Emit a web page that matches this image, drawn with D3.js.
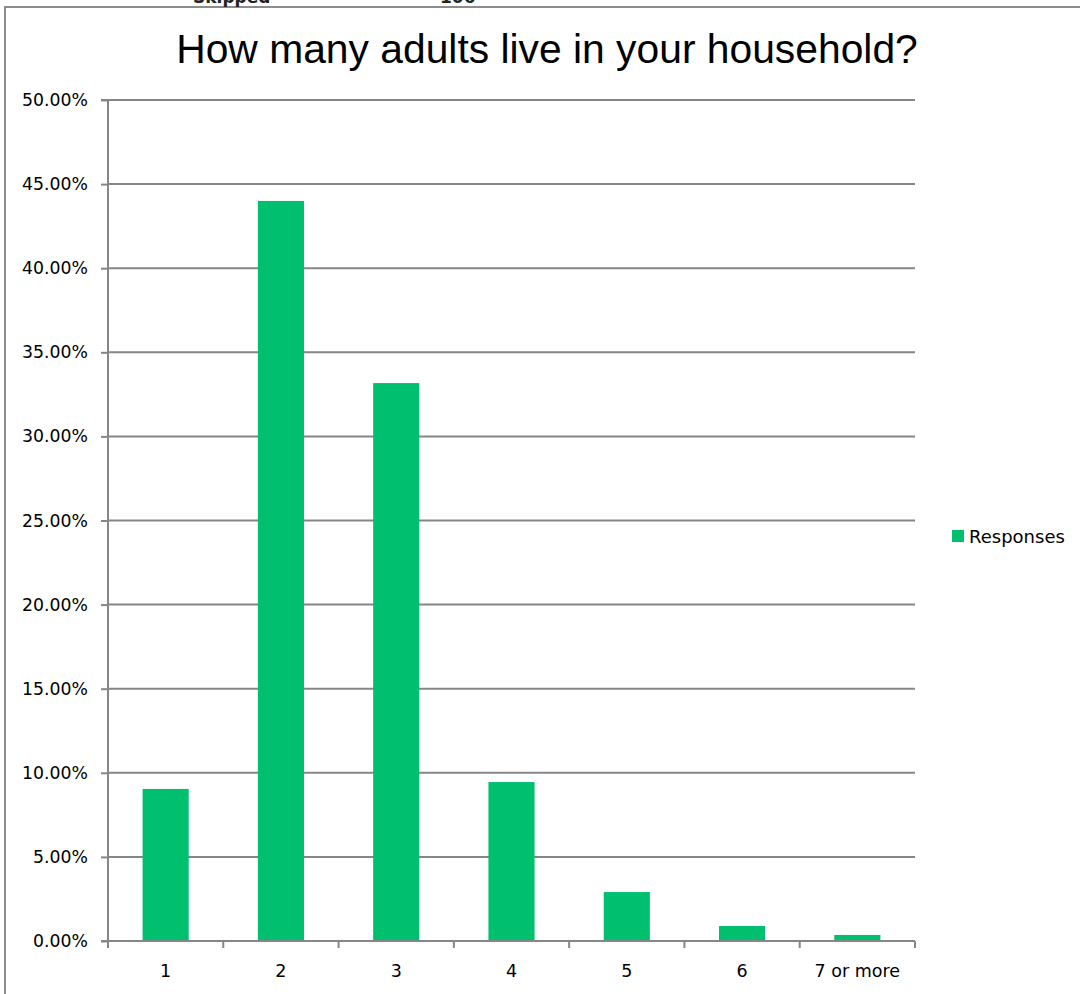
<!DOCTYPE html>
<html>
<head>
<meta charset="utf-8">
<script src="https://cdn.jsdelivr.net/npm/d3@7"></script>
<style>
  html, body { margin: 0; padding: 0; background: #fff; }
  svg { display: block; }
</style>
</head>
<body>
<svg id="chart" width="1080" height="994"></svg>
<script>
const categories = ["1", "2", "3", "4", "5", "6", "7 or more"];
const responses = [9.04, 44.0, 33.17, 9.45, 2.91, 0.89, 0.36];
const yTicks = [0, 5, 10, 15, 20, 25, 30, 35, 40, 45, 50];
const seriesName = "Responses";
const title = "How many adults live in your household?";
const clippedHeader = ["Skipped", "106"];

const svg = d3.select("#chart");
const W = 1080, H = 994;
const margin = { left: 108, right: 165, top: 100, bottom: 53 };
const gridColor = "#868686";
const barColor = "#00BF6F";

// frame of the chart area
svg.append("path")
  .attr("d", "M5,994 V7 H1080")
  .attr("fill", "none").attr("stroke", "#8c8c8c").attr("stroke-width", 2);

// header text from above the chart, cut off by the page edge as in the source image
svg.append("text").attr("x", 193).attr("y", 3)
  .attr("font-family", "DejaVu Sans, sans-serif").attr("font-size", 17).attr("font-weight", "bold")
  .attr("fill", "#222").text(clippedHeader[0]);
svg.append("text").attr("x", 440).attr("y", 3)
  .attr("font-family", "DejaVu Sans, sans-serif").attr("font-size", 17).attr("font-weight", "bold")
  .attr("fill", "#222").text(clippedHeader[1]);

const x = d3.scaleBand().domain(categories)
  .range([margin.left, W - margin.right]).paddingInner(0).paddingOuter(0);
const y = d3.scaleLinear().domain([0, 50]).range([H - margin.bottom, margin.top]);

// gridlines
svg.append("g").selectAll("line").data(yTicks.filter(d => d > 0)).join("line")
  .attr("x1", margin.left).attr("x2", W - margin.right)
  .attr("y1", d => y(d)).attr("y2", d => y(d))
  .attr("stroke", gridColor).attr("stroke-width", 2);

// bars
const barW = x.bandwidth() / 2.5;
svg.append("g").selectAll("rect").data(categories).join("rect")
  .attr("x", (d) => x(d) + (x.bandwidth() - barW) / 2)
  .attr("width", barW)
  .attr("y", (d, i) => y(responses[i]))
  .attr("height", (d, i) => y(0) - y(responses[i]))
  .attr("fill", barColor);

// y axis
const yAxis = d3.axisLeft(y).tickValues(yTicks)
  .tickFormat(d => d.toFixed(2) + "%").tickSize(7).tickPadding(13);
const gy = svg.append("g").attr("transform", `translate(${margin.left},0)`).call(yAxis);
gy.select(".domain").attr("stroke", gridColor).attr("stroke-width", 2).attr("d", `M-7,${y(50)}H0V${y(0)}H-7`);
gy.selectAll(".tick line").attr("stroke", gridColor).attr("stroke-width", 2);
gy.selectAll(".tick text").attr("font-family", "DejaVu Sans, Verdana, sans-serif")
  .attr("font-size", 17.3).attr("fill", "#000");

// x axis
const xAxis = d3.axisBottom(x).tickSize(0).tickPadding(24);
const gx = svg.append("g").attr("transform", `translate(0,${y(0)})`).call(xAxis);
gx.select(".domain").attr("stroke", gridColor).attr("stroke-width", 2)
  .attr("d", `M${margin.left},0H${W - margin.right}`);
gx.selectAll(".tick text").attr("font-family", "DejaVu Sans, Verdana, sans-serif")
  .attr("font-size", 17.5).attr("fill", "#000");
// category boundary ticks
const bounds = categories.map(c => x(c)).concat([x(categories[categories.length - 1]) + x.bandwidth()]);
gx.append("g").selectAll("line").data(bounds).join("line")
  .attr("x1", d => d).attr("x2", d => d).attr("y1", 0).attr("y2", 7)
  .attr("stroke", gridColor).attr("stroke-width", 2);

// title
svg.append("text").attr("x", 547).attr("y", 63).attr("text-anchor", "middle")
  .attr("font-family", "Liberation Sans, Arial, sans-serif").attr("font-size", 40.8)
  .attr("fill", "#000").text(title);

// legend
const lg = svg.append("g").attr("transform", "translate(952,530)");
lg.append("rect").attr("width", 12).attr("height", 12).attr("fill", barColor);
lg.append("text").attr("x", 17).attr("y", 12.5)
  .attr("font-family", "DejaVu Sans, Verdana, sans-serif").attr("font-size", 18)
  .attr("fill", "#000").text(seriesName);
</script>
</body>
</html>
